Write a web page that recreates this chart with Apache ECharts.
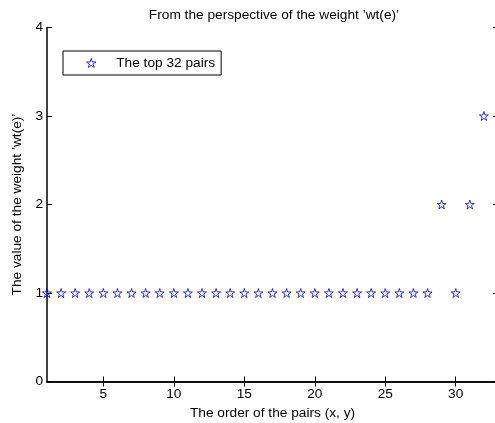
<!DOCTYPE html>
<html>
<head>
<meta charset="utf-8">
<script src="https://cdn.jsdelivr.net/npm/echarts@6/dist/echarts.min.js"></script>
<style>
html, body { margin: 0; padding: 0; background: #fff; }
#main { width: 495px; height: 423px; }
</style>
</head>
<body>
<div id="main"></div>
<script>
// 数据：点的序号和权重
const pairOrder = [1, 2, 3, 4, 5, 6, 7, 8, 9, 10, 11, 12, 13, 14, 15, 16, 17, 18, 19, 20, 21, 22, 23, 24, 25, 26, 27, 28, 29, 30, 31, 32]
const weights = [1, 1, 1, 1, 1, 1, 1, 1, 1, 1, 1, 1, 1, 1, 1, 1, 1, 1, 1, 1, 1, 1, 1, 1, 1, 1, 1, 1, 2, 1, 2, 3]
const xTicks = [5, 10, 15, 20, 25, 30]
const seriesName = 'The top 32 pairs'

// 空心五角星
const star = 'path://M0,-100L22.5,-30.9L95.1,-30.9L36.3,11.8L58.8,80.9L0,38.2L-58.8,80.9L-36.3,11.8L-95.1,-30.9L-22.5,-30.9Z'
const font = 'Liberation Sans'
const fs = 13.7
const starStyle = { color: 'rgba(0,0,0,0)', borderColor: '#0000ff', borderWidth: 1 }

const myEcharts = echarts.init(document.getElementById('main'))
const option = {
  animation: false,
  backgroundColor: '#fff',
  title: {
    text: 'From the perspective of the weight \u2019wt(e)\u2019',
    left: 269,
    textAlign: 'center',
    top: 3,
    textStyle: { fontFamily: font, fontSize: fs, fontWeight: 'normal', color: '#000' }
  },
  legend: {
    left: 63,
    top: 51,
    orient: 'vertical',
    data: [{ name: seriesName, icon: star, itemStyle: starStyle }],
    itemWidth: 40,
    itemHeight: 9,
    itemGap: 0,
    padding: [5, 6, 5, 23],
    borderColor: '#000',
    borderWidth: 1,
    backgroundColor: '#fff',
    textStyle: { fontFamily: font, fontSize: fs, color: '#000' }
  },
  // 右边框伸出画布之外，关掉 v6 的自动收缩
  grid: { left: 47, top: 27.5, width: 451, height: 354, outerBoundsMode: 'none' },
  xAxis: [
    {
      type: 'value',
      min: 1,
      max: 33,
      name: 'The order of the pairs (x, y)',
      nameLocation: 'middle',
      nameGap: 21,
      nameTextStyle: { fontFamily: font, fontSize: fs, color: '#000' },
      axisLine: { lineStyle: { color: '#000', width: 1.5 } },
      axisTick: { inside: true, length: 5, customValues: xTicks, lineStyle: { color: '#000' } },
      axisLabel: { customValues: xTicks, fontFamily: font, fontSize: fs, color: '#000', margin: 6 },
      splitLine: { show: false }
    },
    {
      type: 'value',
      position: 'top',
      min: 1,
      max: 33,
      axisLine: { lineStyle: { color: '#000', width: 1.5 } },
      axisTick: { inside: true, length: 5, customValues: xTicks, lineStyle: { color: '#000' } },
      axisLabel: { show: false },
      splitLine: { show: false }
    }
  ],
  yAxis: [
    {
      type: 'value',
      min: 0,
      max: 4,
      interval: 1,
      name: 'The value of the weight \u2019wt(e)\u2019',
      nameLocation: 'middle',
      nameGap: 22,
      nameTextStyle: { fontFamily: font, fontSize: fs, color: '#000' },
      axisLine: { show: true, lineStyle: { color: '#000', width: 1.5 } },
      axisTick: { show: true, inside: true, length: 5, lineStyle: { color: '#000' } },
      axisLabel: { fontFamily: font, fontSize: fs, color: '#000', margin: 4 },
      splitLine: { show: false }
    },
    {
      type: 'value',
      position: 'right',
      min: 0,
      max: 4,
      interval: 1,
      axisLine: { show: true, lineStyle: { color: '#000', width: 1.5 } },
      axisTick: { show: true, inside: true, length: 5, lineStyle: { color: '#000' } },
      axisLabel: { show: false },
      splitLine: { show: false }
    }
  ],
  series: [{
    name: seriesName,
    type: 'scatter',
    clip: false,
    symbol: star,
    symbolSize: [9, 9],
    itemStyle: starStyle,
    data: pairOrder.map((x, i) => [x, weights[i]])
  }]
}
myEcharts.setOption(option, true)
</script>
</body>
</html>
